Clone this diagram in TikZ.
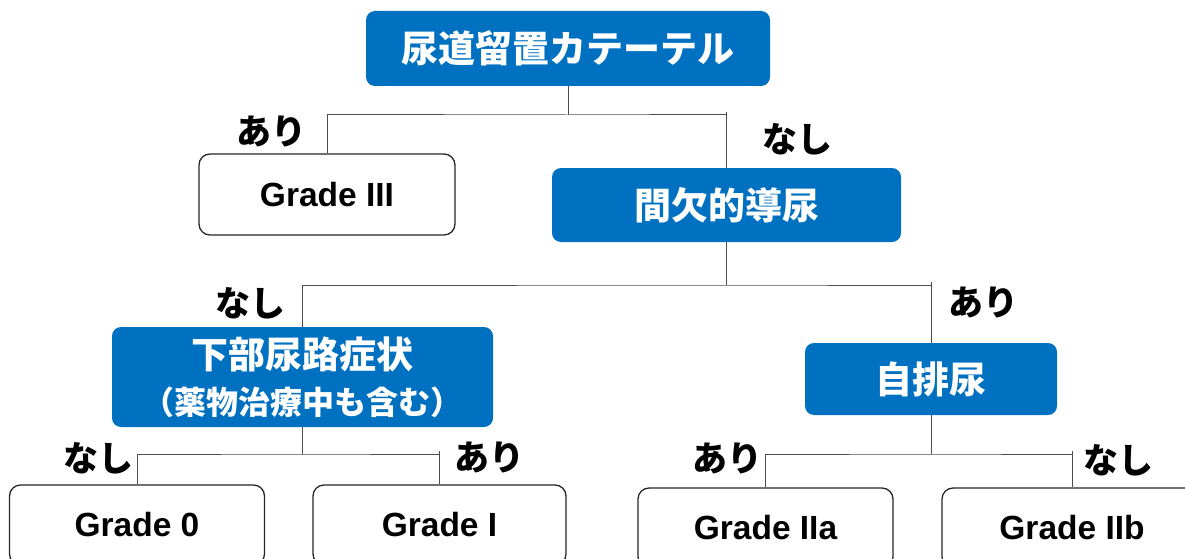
\documentclass[tikz,border=0pt]{standalone}
\usepackage{fontspec}
\setmainfont{Liberation Sans}
\newfontfamily\jp{Noto Sans CJK JP}
\usepackage{tikz}

\definecolor{boxblue}{HTML}{0070C0}
\tikzset{
    bluebox/.style={rounded corners=9pt, fill=boxblue, text=white, inner sep=0pt,
        font=\jp\bfseries\fontsize{37}{44}\selectfont},
    gradebox/.style={rounded corners=11pt, draw=black!85, line width=1.3pt, fill=white,
        inner sep=0pt, font=\bfseries\fontsize{33.5}{38}\selectfont},
    answer/.style={font=\jp\bfseries\fontsize{35}{40}\selectfont},
    conn/.style={draw=black!70, line width=1pt}
}

\begin{document}
\begin{tikzpicture}[x=1pt, y=-1pt]
            \useasboundingbox (0,0) rectangle (1185,559);
            \clip (0,0) rectangle (1185,559);
            % decision boxes
            \node[bluebox, minimum width=404pt, minimum height=75pt] (cath) at (568,48.5) {尿道留置カテーテル};
            \node[bluebox, minimum width=349pt, minimum height=74pt] (intm) at (726.5,205) {間欠的導尿};
            \node[bluebox, minimum width=381pt, minimum height=100pt, align=center] (luts) at (302.5,377)
                {下部尿路症状\\[2pt]{\fontsize{32}{36}\selectfont （薬物治療中も含む）}};
            \node[bluebox, minimum width=252pt, minimum height=72pt] (self) at (931,379) {自排尿};
            % grades
            \node[gradebox, minimum width=256pt, minimum height=81pt] (g3) at (327,194.5) {Grade III};
            \node[gradebox, minimum width=255pt, minimum height=80pt] (g0) at (137,525) {Grade 0};
            \node[gradebox, minimum width=253pt, minimum height=80pt] (g1) at (439.5,525) {Grade I};
            \node[gradebox, minimum width=255pt, minimum height=80pt] (g2a) at (765.5,528) {Grade IIa};
            \node[gradebox, minimum width=260pt, minimum height=80pt] (g2b) at (1072,528) {Grade IIb};
            % answers
            \node[answer] (a1) at (271,131) {あり};
            \node[answer] (n1) at (797,139) {なし};
            \node[answer] (n2) at (250,303) {なし};
            \node[answer] (a2) at (983,302) {あり};
            \node[answer] (n3) at (98,458) {なし};
            \node[answer] (a3) at (489,457) {あり};
            \node[answer] (a4) at (727,458) {あり};
            \node[answer] (n4) at (1118,460) {なし};
            % branches
            \coordinate (s1) at (cath.south |- 0,115);
            \coordinate (s2) at (intm.south |- 0,285);
            \coordinate (s3) at (luts.south |- 0,454);
            \coordinate (s4) at (self.south |- 0,454);
            \draw[conn] (cath.south) -- (s1);
            \draw[conn] (g3.north) |- (s1) -| (intm.north);
            \draw[conn] (s1 -| intm.north) ++(0,-3) -- (s1 -| intm.north);
            \draw[conn] (intm.south) -- (s2);
            \draw[conn] (luts.north) |- (s2) -| (self.north);
            \draw[conn] (s2 -| self.north) ++(0,-3) -- (s2 -| self.north);
            \draw[conn] (luts.south) -- (s3);
            \draw[conn] (g0.north) |- (s3) -| (g1.north);
            \draw[conn] (s3 -| g1.north) ++(0,-3) -- (s3 -| g1.north);
            \draw[conn] (self.south) -- (s4);
            \draw[conn] (g2a.north) |- (s4) -| (g2b.north);
            \draw[conn] (s4 -| g2b.north) ++(0,-3) -- (s4 -| g2b.north);
\end{tikzpicture}
\end{document}
